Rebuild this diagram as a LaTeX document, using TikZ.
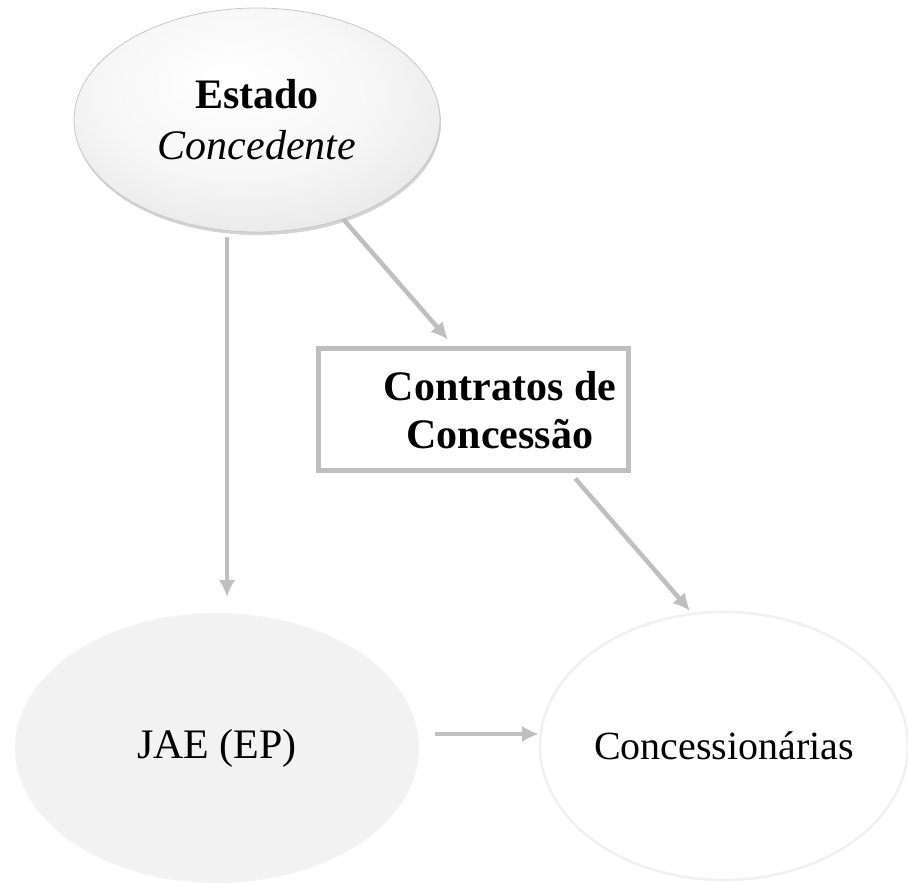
\documentclass[tikz,border=0pt]{standalone}
\usepackage{fontspec}
\setmainfont{Liberation Serif}
\usetikzlibrary{arrows.meta,shapes.geometric,shadows}
\pgfdeclareradialshading{estadobrilho}{\pgfpoint{-4bp}{10bp}}{color(0bp)=(white); color(18bp)=(black!3); color(32bp)=(black!9); color(42bp)=(black!18); color(48bp)=(black!28); color(52bp)=(black!50)}

\begin{document}
\begin{tikzpicture}[x=1pt,y=-1pt,>={Latex[length=17pt,width=17pt]},
    seta/.style={->,draw=black!25,line width=4.5pt},
    estadoform/.style={ellipse,minimum width=366pt,minimum height=224pt,inner sep=0pt,
      shading=estadobrilho,draw=black!22,line width=0.8pt,
      drop shadow={shadow xshift=1pt,shadow yshift=-3pt,opacity=0.35},
      align=center,font=\fontsize{42}{51}\selectfont},
    caixa/.style={rectangle,draw=black!25,line width=5pt,minimum width=310pt,minimum height=122pt},
    jaeform/.style={ellipse,fill=black!5,minimum width=404pt,minimum height=270pt,inner sep=0pt,
      font=\fontsize{42}{50}\selectfont},
    concform/.style={ellipse,draw=black!6,line width=2.5pt,fill=white,minimum width=368pt,
      minimum height=268pt,inner sep=0pt,font=\fontsize{40}{48}\selectfont}]
  \useasboundingbox (0,0) rectangle (908,883);

  \node[estadoform] (estado) at (257,120) {\textbf{Estado}\\\textit{Concedente}};
  \node[caixa] (contratos) at (473,409) {};
  \node[align=center,font=\fontsize{42}{48}\selectfont\bfseries] (contratostxt) at (500,410)
    {Contratos de\\Concessão};
  \node[jaeform] (jae) at (217,748) {JAE (EP)};
  \node[concform] (conc) at (724,746) {Concessionárias};

  \draw[seta,shorten <=5pt,shorten >=16pt] ([xshift=-30pt]estado.south) -- ([xshift=-30pt]estado.south |- jae.north);
  \draw[seta] (estado.-49) -- ([xshift=-25pt,yshift=6pt]contratos.north);
  \draw[seta,shorten <=8pt] ([xshift=97pt]contratos.south) -- ([xshift=-34pt]conc.north);
  \draw[seta,shorten <=16pt] ([yshift=14pt]jae.east) -- ([yshift=14pt]jae.east -| conc.west);
\end{tikzpicture}
\end{document}
